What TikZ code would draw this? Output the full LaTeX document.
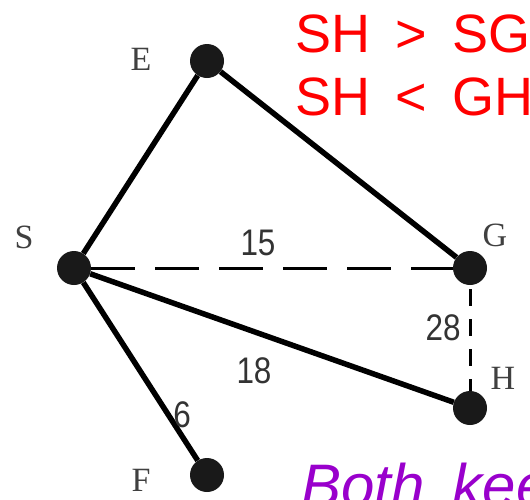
\documentclass[tikz,border=0pt]{standalone}
\usepackage{fontspec}
\setmainfont{Liberation Serif}
\setsansfont{Liberation Sans}
\newfontfamily\numfont[FakeStretch=0.85]{Liberation Sans}
\newfontfamily\notefont[WordSpace=1.7]{Liberation Sans}
\definecolor{notepurple}{RGB}{153,0,204}

\begin{document}
\begin{tikzpicture}[x=1pt, y=-1pt]
\tikzstyle{vertex} = [circle, fill=black!90, minimum size=34pt, inner sep=0pt]
\tikzstyle{vname} = [text=black!75, font=\fontsize{34}{36}\selectfont, inner sep=0pt]
\tikzstyle{weight} = [text=black!80, font=\numfont\fontsize{37}{40}\selectfont, inner sep=0pt]
\tikzstyle{solidedge} = [line width=5.5pt]
\tikzstyle{dashedge} = [line width=3pt, dash pattern=on 44pt off 20pt]
\tikzstyle{note} = [anchor=base west, inner sep=0pt, font=\notefont\fontsize{54}{60}\selectfont]
\useasboundingbox (0,0) rectangle (530,499);
\clip (0,0) rectangle (530,499);

% Nodes
\node (e) [vertex] at (207,61) {};
\node (s) [vertex] at (74,268) {};
\node (g) [vertex] at (470,268) {};
\node (h) [vertex] at (470,408) {};
\node (f) [vertex] at (207,475) {};

% Names
\node (ename) [vname] at (141,59) {E};
\node (sname) [vname] at (24,237) {S};
\node (gname) [vname] at (495,235) {G};
\node (hname) [vname] at (503,378) {H};
\node (fname) [vname] at (141,480) {F};

% Edges
\draw [solidedge] (s) -- (e);
\draw [solidedge] (e) -- (g);
\draw [solidedge] (s) -- (h);
\draw [solidedge] (s) -- (f);
\draw [dashedge] (s) -- (g);
\draw [dashedge, dash pattern=on 17pt off 13pt, dash phase=-4pt] (g) -- (h);

% Weights
\node (wsg) [weight] at (258,243) {15};
\node (wgh) [weight] at (443,328) {28};
\node (wsh) [weight] at (254,371) {18};
\node (wsf) [weight] at (182,415) {6};

% Notes
\node (note1) [note, text=red] at (295,52) {SH > SG};
\node (note2) [note, text=red] at (295,115) {SH < GH};
\node (note3) [note, text=notepurple, font=\notefont\itshape\fontsize{60}{66}\selectfont] at (301,506) {Both kee};

\end{tikzpicture}
\end{document}
